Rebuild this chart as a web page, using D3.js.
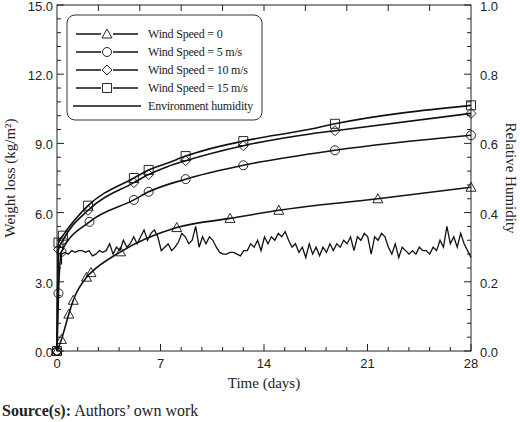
<!DOCTYPE html><html><head><meta charset="utf-8"><script src="https://cdn.jsdelivr.net/npm/d3@7"></script>
<style>body{margin:0;background:#fff}</style></head><body><svg id="c" width="520" height="422"></svg>
<script>
const xTicks=[0,7,14,21,28];
const topTicks=[2.8,5.6,8.4,11.2,14,16.8,19.6,22.4,25.2];
const yTicks=[0,3,6,9,12,15];
const rTicks=[0,0.2,0.4,0.6,0.8,1.0];
const wind15=[[0,0],[0.1,4.7],[0.4,5.0],[2.1,6.3],[5.2,7.5],[6.2,7.85],[7.5,8.15],[8.7,8.45],[12.6,9.1],[17,9.6],[18.8,9.85],[28,10.65]];
const wind10=[[0,0],[0.1,4.4],[0.4,4.8],[2.1,6.1],[5.2,7.3],[6.2,7.65],[7.5,8.0],[8.7,8.25],[12.6,8.9],[17,9.4],[18.8,9.55],[28,10.3]];
const wind5=[[0,0],[0.1,2.5],[0.3,4.3],[2.2,5.6],[5.2,6.55],[6.2,6.9],[8.7,7.45],[12.6,8.05],[18.8,8.7],[28,9.35]];
const wind0=[[0,0],[0.3,0.5],[0.8,1.6],[1.1,2.2],[2.0,3.2],[2.3,3.4],[4.3,4.3],[8.1,5.35],[11.7,5.75],[15,6.1],[21.7,6.6],[28,7.1]];
const humStart=0.3, humEnd=28;
const humidity=[0.28,0.285,0.28,0.29,0.285,0.29,0.29,0.285,0.29,0.275,0.28,0.29,0.285,0.29,0.31,0.28,0.30,0.29,0.32,0.30,0.31,0.33,0.31,0.33,0.35,0.32,0.34,0.35,0.33,0.29,0.30,0.31,0.29,0.30,0.315,0.34,0.33,0.31,0.32,0.36,0.30,0.33,0.31,0.33,0.32,0.30,0.285,0.28,0.28,0.285,0.285,0.28,0.275,0.29,0.29,0.31,0.30,0.32,0.29,0.33,0.31,0.33,0.32,0.34,0.33,0.345,0.32,0.30,0.31,0.285,0.30,0.27,0.31,0.28,0.30,0.275,0.30,0.285,0.31,0.29,0.31,0.30,0.32,0.31,0.33,0.29,0.33,0.32,0.34,0.33,0.28,0.33,0.32,0.34,0.33,0.30,0.28,0.31,0.27,0.30,0.29,0.28,0.29,0.28,0.30,0.29,0.29,0.28,0.30,0.29,0.32,0.30,0.36,0.31,0.33,0.30,0.34,0.31,0.29,0.27];
const legendLabels=["Wind Speed = 0","Wind Speed = 5 m/s","Wind Speed = 10 m/s","Wind Speed = 15 m/s","Environment humidity"];

const svg=d3.select("#c");
const L=57,R=471,T=5,B=351;
const x=d3.scaleLinear().domain([0,28]).range([L,R]);
const y=d3.scaleLinear().domain([0,15]).range([B,T]);
const yr=d3.scaleLinear().domain([0,1]).range([B,T]);
const g=svg.append("g");
g.append("rect").attr("x",L).attr("y",T).attr("width",R-L).attr("height",B-T).attr("fill","none").attr("stroke","#222").attr("stroke-width",1);
const sans="Liberation Sans, Arial, sans-serif", serif="Liberation Serif, Times New Roman, serif";
function ticks(scale,major,minorN,orient){
  for(let i=0;i<major.length;i++){
    const v=major[i];
    line(orient,scale(v),7);
    if(i<major.length-1){const s=(major[i+1]-v)/minorN;for(let k=1;k<minorN;k++)line(orient,scale(v+s*k),4);}
  }
}
function line(o,p,len){
  if(o==="b")g.append("line").attr("x1",p).attr("x2",p).attr("y1",B).attr("y2",B-len);
  if(o==="t")g.append("line").attr("x1",p).attr("x2",p).attr("y1",T).attr("y2",T+len);
  if(o==="l")g.append("line").attr("x1",L).attr("x2",L+len).attr("y1",p).attr("y2",p);
  if(o==="r")g.append("line").attr("x1",R).attr("x2",R-len).attr("y1",p).attr("y2",p);
}
ticks(x,xTicks,5,"b");ticks(y,yTicks,5,"l");ticks(yr,rTicks,5,"r");
topTicks.forEach(v=>line("t",x(v),6));
g.selectAll("line").attr("stroke","#222").attr("stroke-width",1);
xTicks.forEach(v=>svg.append("text").attr("x",x(v)).attr("y",B+17).attr("text-anchor","middle").attr("font-family",sans).attr("font-size",13).attr("fill","#222").text(v));
yTicks.forEach(v=>svg.append("text").attr("x",L-4).attr("y",y(v)+6).attr("text-anchor","end").attr("font-family",sans).attr("font-size",13).attr("fill","#222").text(v.toFixed(1)));
rTicks.forEach(v=>svg.append("text").attr("x",R+9).attr("y",yr(v)+6).attr("font-family",sans).attr("font-size",13).attr("fill","#222").text(v.toFixed(1)));
svg.append("text").attr("x",(L+R)/2).attr("y",B+37).attr("text-anchor","middle").attr("font-family",serif).attr("font-size",15).attr("fill","#222").text("Time (days)");
svg.append("text").attr("transform",`translate(15,${(T+B)/2}) rotate(-90)`).attr("text-anchor","middle").attr("font-family",serif).attr("font-size",15).attr("fill","#222").text("Weight loss (kg/m²)");
svg.append("text").attr("transform",`translate(506,${(T+B)/2}) rotate(90)`).attr("text-anchor","middle").attr("font-family",serif).attr("font-size",15).attr("fill","#222").text("Relative Humidity");
const st=svg.append("text").attr("x",2).attr("y",416).attr("font-family",serif).attr("font-size",16).attr("fill","#222");
st.append("tspan").attr("font-weight","bold").text("Source(s):");st.append("tspan").text(" Authors’ own work");

const ln=d3.line().x(d=>x(d[0])).y(d=>y(d[1])).curve(d3.curveMonotoneX);
const hum=humidity.map((v,i)=>[humStart+(humEnd-humStart)*i/(humidity.length-1),v]);
const hl=d3.line().x(d=>x(d[0])).y(d=>yr(d[1]));
svg.append("path").attr("d",hl([[0.3,0.25],...hum])).attr("fill","none").attr("stroke","#111").attr("stroke-width",1.3);
const series=[[wind0,"tri"],[wind5,"circ"],[wind10,"dia"],[wind15,"sq"]];
function marker(sel,type,cx,cy){
  const s=sel.append("path").attr("fill","none").attr("stroke","#111").attr("stroke-width",0.9);
  let d;
  if(type==="tri")d=`M${cx},${cy-5}L${cx+5},${cy+4}L${cx-5},${cy+4}Z`;
  if(type==="circ")d=`M${cx+4.5},${cy}A4.5,4.5 0 1,1 ${cx-4.5},${cy}A4.5,4.5 0 1,1 ${cx+4.5},${cy}`;
  if(type==="dia")d=`M${cx},${cy-5}L${cx+5},${cy}L${cx},${cy+5}L${cx-5},${cy}Z`;
  if(type==="sq")d=`M${cx-4.5},${cy-4.5}h9v9h-9Z`;
  s.attr("d",d);
}
series.forEach(([data,type])=>{
  svg.append("path").attr("d",ln(data)).attr("fill","none").attr("stroke","#111").attr("stroke-width",1.6);
  data.filter(d=>!(d[0]>16.5&&d[0]<17.5)&&!(type!=="tri"&&d[0]>7&&d[0]<8)).forEach(d=>marker(svg,type,x(d[0]),y(d[1])));
});
// legend
svg.append("rect").attr("x",67).attr("y",15).attr("width",195).attr("height",105).attr("rx",8).attr("fill","#fff").attr("stroke","#333");
const types=["tri","circ","dia","sq",null];
legendLabels.forEach((t,i)=>{
  const ly=34+i*18;
  svg.append("line").attr("x1",i<4?76:73).attr("x2",i<4?138:141).attr("y1",ly).attr("y2",ly).attr("stroke","#111").attr("stroke-width",1.6);
  if(types[i]){const m=svg.append("g");svg.append("rect").attr("x",101).attr("y",ly-6).attr("width",12).attr("height",12).attr("fill","#fff");marker(svg,types[i],107,ly);}
  svg.append("text").attr("x",148).attr("y",ly+4).attr("font-family",serif).attr("font-size",12).attr("letter-spacing",-0.2).attr("fill","#222").text(t);
});
</script></body></html>
